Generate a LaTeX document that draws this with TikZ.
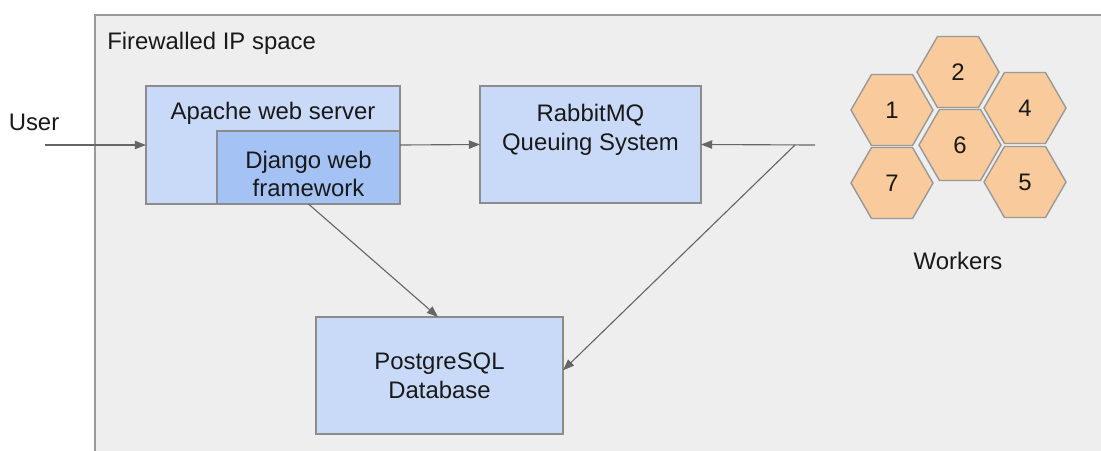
\documentclass[tikz,border=0pt]{standalone}
\usepackage{fontspec}
\setmainfont{Liberation Sans}
\usetikzlibrary{arrows.meta,shapes.geometric}

\definecolor{zonefill}{HTML}{EEEEEE}
\definecolor{zoneedge}{HTML}{999999}
\definecolor{srvfill}{HTML}{C9DAF8}
\definecolor{appfill}{HTML}{A4C2F4}
\definecolor{boxedge}{HTML}{8C8C8C}
\definecolor{hexfill}{HTML}{F9CB9C}
\definecolor{wire}{HTML}{666666}

\begin{document}
\begin{tikzpicture}[
  x=0.025cm, y=-0.025cm,
  font=\fontsize{17}{20.5}\selectfont,
  txt/.style={text=black!90, align=center, inner sep=0pt},
  srv/.style={
    draw=boxedge, line width=0.9pt, fill=srvfill, inner sep=0pt, outer sep=0pt
  },
  app/.style={srv, fill=appfill},
  worker/.style={
    regular polygon, regular polygon sides=6, minimum size=2.05cm,
    draw=zoneedge, line width=1pt, fill=hexfill, inner sep=0pt, outer sep=0pt,
    text=black!90
  },
  wireto/.style={-{Triangle[length=2.8mm, width=2.1mm]}, draw=wire, line width=0.8pt},
]
\useasboundingbox (0,0) rectangle (1101,450);

% =========================== firewalled zone ==============================
\begin{scope}
  \clip (0,0) rectangle (1101,450);
  \draw[draw=zoneedge, line width=1pt, fill=zonefill]
    (95,480) -- (95,15) -- (1130,15) -- (1130,480) -- cycle;
\end{scope}
\node[txt, anchor=west] (zonelbl) at (107,43) {Firewalled IP space};

% =========================== web tier =====================================
\node[txt] (user) at (34,122) {User};
\coordinate (userin) at (45,145);

\node[srv, minimum width=6.35cm, minimum height=2.95cm] (apache) at (273,145) {};
\node[txt] (apachelbl) at (273,113) {Apache web server};
\node[app, minimum width=4.575cm, minimum height=1.825cm] (django) at (308.5,167.5) {};
\node[txt] (djangolbl) at (308.5,174) {Django web\\framework};

% =========================== queue and database ===========================
\node[srv, minimum width=5.525cm, minimum height=2.925cm] (rabbit) at (590.5,144.5) {};
\node[txt] (rabbitlbl) at (590.5,130) {RabbitMQ\\Queuing System};

\node[srv, minimum width=6.175cm, minimum height=2.925cm,
      text=black!90, align=center] (postgres) at (439.5,375.5)
  {PostgreSQL\\Database};

% =========================== workers ======================================
\foreach \n/\px/\py in {2/958/72, 1/892/110, 4/1025/108, 6/960/145, 7/892/183, 5/1025/182}{
  \node[worker] (w\n) at (\px,\py) {\n};
}
\node[txt] (workerlbl) at (958,261) {Workers};

\coordinate (wkout) at (815,145);
\coordinate (wksplit) at (795,145);

% =========================== connectors ===================================
\draw[wireto] (userin) -- (apache.west);
\draw[wireto] (apache.east) -- (rabbit.west);
\draw[wireto] (django.south) -- (postgres.north -| 438,0);
\draw[wireto] (wkout) -- (rabbit.east);
\draw[wireto] (wksplit) -- ([yshift=0.13cm]postgres.east);

\end{tikzpicture}
\end{document}
